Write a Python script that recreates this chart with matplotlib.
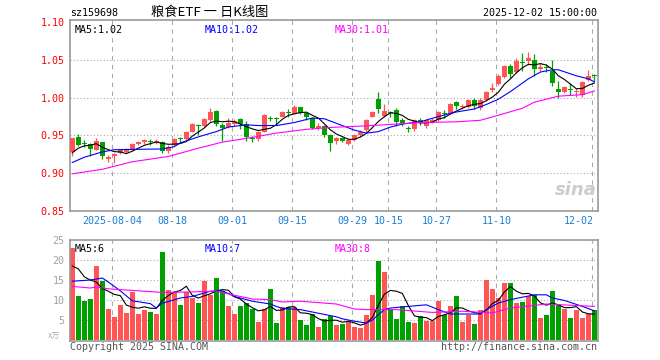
import numpy as np
import pandas as pd
import matplotlib
matplotlib.use('Agg')
import matplotlib.pyplot as plt
from matplotlib.transforms import blended_transform_factory

plt.rcParams['font.family'] = ['DejaVu Sans Mono', 'Noto Sans CJK SC']

# date labels and the candle index they sit on
date_labels = ['2025-08-04', '08-18', '09-01', '09-15', '09-29', '10-15', '10-27', '11-10', '12-02']
date_idx = [7, 17, 27, 37, 47, 53, 61, 71, 87]

open_ = [0.928, 0.948, 0.939, 0.938, 0.931, 0.941, 0.918, 0.923, 0.926, 0.928,
         0.932, 0.938, 0.941, 0.943, 0.940, 0.941, 0.929, 0.937, 0.946, 0.945,
         0.955, 0.964, 0.962, 0.971, 0.982, 0.964, 0.961, 0.965, 0.972, 0.965,
         0.947, 0.945, 0.955, 0.973, 0.973, 0.975, 0.981, 0.979, 0.987, 0.980,
         0.973, 0.960, 0.963, 0.950, 0.942, 0.946, 0.938, 0.944, 0.950, 0.957,
         0.975, 0.998, 0.976, 0.981, 0.984, 0.971, 0.960, 0.958, 0.971, 0.963,
         0.968, 0.970, 0.980, 0.979, 0.994, 0.987, 0.988, 0.997, 0.986, 0.997,
         1.010, 1.018, 1.027, 1.042, 1.034, 1.047, 1.049, 1.050, 1.038, 1.040,
         1.035, 1.012, 1.008, 1.011, 1.007, 1.004, 1.023, 1.030]
high = [0.947, 0.952, 0.944, 0.940, 0.946, 0.941, 0.924, 0.926, 0.931, 0.933,
        0.940, 0.943, 0.945, 0.945, 0.945, 0.943, 0.937, 0.946, 0.948, 0.956,
        0.967, 0.965, 0.973, 0.986, 0.984, 0.967, 0.973, 0.972, 0.973, 0.969,
        0.949, 0.956, 0.978, 0.976, 0.974, 0.982, 0.985, 0.990, 0.988, 0.981,
        0.975, 0.966, 0.964, 0.952, 0.948, 0.948, 0.946, 0.952, 0.957, 0.972,
        0.982, 1.007, 0.992, 0.982, 0.986, 0.973, 0.963, 0.972, 0.973, 0.972,
        0.973, 0.982, 0.984, 0.993, 0.995, 0.992, 0.998, 0.999, 0.999, 1.009,
        1.020, 1.031, 1.043, 1.044, 1.052, 1.059, 1.061, 1.058, 1.046, 1.044,
        1.050, 1.022, 1.016, 1.019, 1.013, 1.022, 1.037, 1.031]
low = [0.922, 0.936, 0.934, 0.922, 0.930, 0.919, 0.915, 0.914, 0.925, 0.926,
       0.931, 0.937, 0.939, 0.937, 0.938, 0.926, 0.927, 0.936, 0.940, 0.944,
       0.954, 0.951, 0.961, 0.969, 0.963, 0.942, 0.960, 0.963, 0.958, 0.943,
       0.941, 0.943, 0.954, 0.969, 0.965, 0.974, 0.975, 0.978, 0.978, 0.971,
       0.958, 0.957, 0.948, 0.929, 0.939, 0.941, 0.937, 0.942, 0.948, 0.955,
       0.974, 0.980, 0.975, 0.974, 0.963, 0.962, 0.955, 0.956, 0.964, 0.960,
       0.966, 0.969, 0.973, 0.978, 0.985, 0.985, 0.986, 0.985, 0.983, 0.995,
       1.008, 1.017, 1.026, 1.026, 1.033, 1.036, 1.043, 1.029, 1.035, 1.034,
       1.015, 1.000, 1.006, 1.004, 1.001, 1.001, 1.022, 1.022]
close = [0.946, 0.937, 0.938, 0.932, 0.942, 0.922, 0.921, 0.925, 0.930, 0.931,
         0.938, 0.941, 0.944, 0.941, 0.942, 0.929, 0.935, 0.945, 0.945, 0.955,
         0.965, 0.962, 0.972, 0.981, 0.965, 0.960, 0.966, 0.969, 0.965, 0.948,
         0.945, 0.955, 0.977, 0.972, 0.972, 0.981, 0.980, 0.988, 0.980, 0.975,
         0.960, 0.962, 0.950, 0.940, 0.947, 0.943, 0.944, 0.950, 0.955, 0.971,
         0.981, 0.985, 0.982, 0.980, 0.968, 0.967, 0.959, 0.971, 0.967, 0.970,
         0.970, 0.981, 0.979, 0.992, 0.989, 0.989, 0.997, 0.989, 0.997, 1.008,
         1.013, 1.029, 1.042, 1.032, 1.049, 1.046, 1.052, 1.038, 1.041, 1.039,
         1.019, 1.008, 1.014, 1.010, 1.008, 1.021, 1.029, 1.029]
volume = [23, 11, 9.75, 10.25, 18.5, 14.75, 7.75, 5.75, 8.75, 6.75,
          12, 6.5, 7.5, 7, 6.5, 22, 12.5, 12, 8.75, 12,
          10.5, 9.25, 14.75, 11.25, 15.5, 12.25, 8.5, 6.5, 8.5, 9.25,
          7.75, 4.5, 7.75, 12.75, 4.25, 8.25, 8.25, 8.25, 5.0, 3.75,
          6.5, 3.25, 5.25, 6.0, 3.75, 4.0, 4.5, 3.25, 3.0, 6.25,
          11.25, 19.75, 17.0, 7.75, 5.25, 8.5, 4.5, 4.25, 6.0, 4.75,
          4.75, 9.75, 6.25, 8.5, 11.0, 4.5, 6.25, 4.0, 7.5, 15.0,
          12.75, 10.5, 14.25, 14.25, 9.25, 9.5, 11.0, 11.25, 5.5, 6.25,
          12.25, 8.75, 7.75, 5.5, 7.5, 5.5, 6.5, 7.5]

# moving averages (start of MA5, MA10 / MA30 at sample candles)
ma5_head = [0.927, 0.933, 0.936, 0.937]
ma10_at = [0, 2, 5, 7, 15, 17, 18, 21, 24, 26, 29, 31, 34, 37, 40, 42, 45, 47, 49, 51,
           53, 55, 58, 61, 64, 67, 69, 71, 73, 76, 78, 80, 81, 84, 86, 87]
ma10_val = [0.914, 0.921, 0.928, 0.931, 0.932, 0.935, 0.940, 0.948, 0.955, 0.961,
            0.964, 0.963, 0.963, 0.967, 0.973, 0.972, 0.963, 0.957, 0.953, 0.955,
            0.961, 0.965, 0.968, 0.975, 0.981, 0.985, 0.991, 0.998, 1.008, 1.025,
            1.034, 1.037, 1.037, 1.029, 1.025, 1.021]
ma30_at = [0, 5, 10, 16, 21, 25, 29, 34, 39, 43, 50, 58, 64, 68, 72, 75, 77, 81, 85, 87]
ma30_val = [0.899, 0.905, 0.915, 0.922, 0.933, 0.941, 0.946, 0.953, 0.958, 0.9605,
            0.963, 0.967, 0.968, 0.970, 0.979, 0.986, 0.994, 1.002, 1.004, 1.009]

vol_ma5_head = [18.5, 17.8, 15.8, 15.0]
vol_ma10_at = [0, 3, 5, 6, 8, 10, 13, 14, 15, 18, 20, 23, 25, 27, 30, 33, 34, 35, 38, 40,
               44, 45, 47, 49, 50, 52, 53, 56, 59, 61, 63, 66, 68, 69, 71, 73, 77, 79, 80,
               82, 85, 87]
vol_ma10_val = [14.7, 15.0, 15.5, 14.5, 12.3, 9.8, 9.1, 8.0, 9.2, 10.5, 10.9, 12.2, 12.3,
                10.9, 9.7, 9.0, 8.4, 7.9, 7.6, 7.0, 5.8, 5.3, 4.7, 4.25, 5.0, 7.6, 8.0,
                8.4, 8.8, 7.6, 6.5, 6.5, 6.5, 7.6, 9.25, 10.1, 11.3, 11.3, 10.5, 9.9,
                8.4, 7.3]
vol_ma30_at = [0, 3, 4, 6, 10, 15, 19, 24, 27, 30, 33, 35, 38, 44, 47, 49, 54, 60, 65,
               70, 73, 79, 87]
vol_ma30_val = [13.4, 13.0, 13.25, 12.8, 12.4, 11.9, 12.0, 12.2, 11.2, 10.25, 10.1, 9.5,
                9.7, 9.0, 7.75, 7.6, 7.6, 6.9, 7.2, 6.75, 8.0, 9.0, 8.4]

RED = '#ff5555'
GREEN = '#00a000'
GRID = '#aaaaaa'

n = len(close)
x = np.arange(n)
o = np.array(open_)
c = np.array(close)
up = c >= o
colors = [RED if u else GREEN for u in up]

ma5 = pd.Series(close).rolling(5).mean().to_numpy()
ma5[:4] = ma5_head
vma5 = pd.Series(volume).rolling(5).mean().to_numpy()
vma5[:4] = vol_ma5_head

fig = plt.figure(figsize=(6.6, 3.6), dpi=100)
ax = fig.add_axes([70 / 660, 1 - 211 / 360, 528 / 660, 191 / 360])
axv = fig.add_axes([70 / 660, 1 - 340.5 / 360, 528 / 660, 100.5 / 360])

for a in (ax, axv):
    a.set_xlim(-0.38, 87.6)
    for s in a.spines.values():
        s.set_color('#999999')
        s.set_linewidth(1.2)
    for d in date_idx:
        a.axvline(d - 0.33, color=GRID, lw=0.8, ls=(0, (4, 4)), zorder=0)
    a.set_xticks([])

# price panel
ax.set_ylim(0.8497, 1.103)
for lv in [0.90, 0.95, 1.00, 1.05]:
    ax.axhline(lv, color=GRID, lw=0.8, ls=(0, (1, 2)), zorder=0)
ax.set_yticks([0.85, 0.90, 0.95, 1.00, 1.05, 1.10])
ax.set_yticklabels(['0.85', '0.90', '0.95', '1.00', '1.05', '1.10'])
ax.tick_params(axis='y', length=0, pad=4, labelsize=7.2, labelcolor='#ff0000')

ax.vlines(x, low, high, colors=colors, lw=0.9, zorder=2)
body_h = np.maximum(np.abs(c - o), 0.0013)
ax.bar(x, body_h, bottom=np.minimum(o, c), width=0.8, color=colors, lw=0, zorder=3)

ax.plot(x, ma5, color='black', lw=0.8, zorder=4)
ax.plot(ma10_at, ma10_val, color='#0000ff', lw=0.8, zorder=4)
ax.plot(ma30_at, ma30_val, color='#ff00ff', lw=0.8, zorder=4)

tr = blended_transform_factory(ax.transData, ax.transAxes)
for lab, d in zip(date_labels, date_idx):
    ha = 'right' if d == date_idx[-1] else 'center'
    ax.text(d - 0.33 + (0.2 if ha == 'right' else 0), -0.053, lab, transform=tr,
            ha=ha, va='center', fontsize=7.2, color='#1a7fd4')

ax.text(0.009, 0.975, 'MA5:1.02', transform=ax.transAxes, ha='left', va='top',
        fontsize=7.2, color='black')
ax.text(0.255, 0.975, 'MA10:1.02', transform=ax.transAxes, ha='left', va='top',
        fontsize=7.2, color='#0000ff')
ax.text(0.501, 0.975, 'MA30:1.01', transform=ax.transAxes, ha='left', va='top',
        fontsize=7.2, color='#ff00ff')
ax.text(0.997, 0.11, 'sina', transform=ax.transAxes, ha='right', va='center',
        fontsize=13, fontweight='bold', style='italic', color='#cccccc',
        family='DejaVu Sans', zorder=1)

# volume panel
axv.set_ylim(-0.12, 25)
for lv in [5, 10, 15, 20]:
    axv.axhline(lv, color=GRID, lw=0.8, ls=(0, (1, 2)), zorder=0)
axv.set_yticks([5, 10, 15, 20, 25])
axv.set_yticklabels(['5', '10', '15', '20', '25'])
axv.tick_params(axis='y', length=0, pad=4, labelsize=7.2, labelcolor='#a0a0a0')
axv.bar(x, volume, width=0.88, color=colors, lw=0, zorder=2)
axv.plot(x, vma5, color='black', lw=0.8, zorder=4)
axv.plot(vol_ma10_at, vol_ma10_val, color='#0000ff', lw=0.8, zorder=4)
axv.plot(vol_ma30_at, vol_ma30_val, color='#ff00ff', lw=0.8, zorder=4)
axv.text(0.009, 0.965, 'MA5:6', transform=axv.transAxes, ha='left', va='top',
         fontsize=7.2, color='black')
axv.text(0.255, 0.965, 'MA10:7', transform=axv.transAxes, ha='left', va='top',
         fontsize=7.2, color='#0000ff')
axv.text(0.501, 0.965, 'MA30:8', transform=axv.transAxes, ha='left', va='top',
         fontsize=7.2, color='#ff00ff')

# header and footer
fig.text(70 / 660, 1 - 12.5 / 360, 'sz159698', ha='left', va='center', fontsize=7.2)
fig.text(210 / 660, 1 - 12.5 / 360, '粮食ETF 一 日K线图', ha='center', va='center',
         fontsize=9.5, family=['Noto Sans CJK SC'])
fig.text(597 / 660, 1 - 12.5 / 360, '2025-12-02 15:00:00', ha='right', va='center',
         fontsize=7.2)
fig.text(60 / 660, 1 - 336 / 360, 'x万', ha='right', va='center', fontsize=5.5,
         color='#b0b0b0', family=['DejaVu Sans', 'Noto Sans CJK SC'])
fig.text(70 / 660, 1 - 346.5 / 360, 'Copyright 2025 SINA.COM', ha='left', va='center',
         fontsize=7.2, color='#555555')
fig.text(597 / 660, 1 - 346.5 / 360, 'http://finance.sina.com.cn', ha='right',
         va='center', fontsize=7.2, color='#555555')

fig.savefig('out.png', dpi=100)
